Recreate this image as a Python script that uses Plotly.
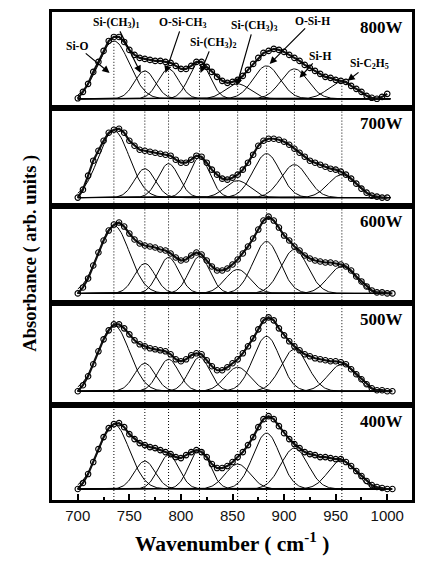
import numpy as np
import plotly.graph_objects as go

# ---------------- data ----------------
powers = ["800W", "700W", "600W", "500W", "400W"]

# measured spectra (open circles), absorbance in arb. units, every 5 cm-1
wn_800W = list(range(700, 1005, 5))
abs_800W = [0.5, 7, 15, 27, 37, 48, 58, 62, 62, 57, 49, 44, 41, 40, 39, 38, 38, 37, 36, 33,
            30, 30, 33, 37, 37, 32, 27, 22, 18, 16, 17, 19, 23, 29, 35, 41, 46, 48, 50, 49,
            47, 44, 41, 38, 34, 31, 28, 25, 22, 21, 19, 18, 17, 13, 10, 7, 3, 1, 0, 2, 5]

wn_700W = list(range(700, 1005, 5))
abs_700W = [0, 8, 22, 37, 47, 57, 65, 68, 69, 65, 57, 52, 48, 47, 46, 45, 44, 43, 42, 38,
            35, 35, 38, 42, 41, 35, 28, 23, 19, 18, 20, 23, 28, 35, 43, 52, 57, 59, 59, 58,
            56, 53, 49, 45, 41, 37, 35, 33, 31, 29, 28, 26, 23, 19, 14, 9, 5, 2, 1, 0, 0]

wn_600W = list(range(700, 1010, 5))
abs_600W = [0, 6, 15, 28, 41, 53, 63, 69, 71, 67, 60, 54, 50, 48, 47, 46, 44, 43, 40, 36,
            33, 34, 38, 41, 39, 33, 27, 23, 23, 25, 29, 34, 40, 47, 55, 64, 73, 77, 73, 66,
            58, 53, 47, 43, 38, 35, 33, 32, 31, 31, 30, 29, 27, 23, 17, 12, 7, 3, 1, 1, 0, 0]

wn_500W = list(range(700, 1010, 5))
abs_500W = [0, 6, 15, 27, 40, 52, 61, 67, 67, 63, 57, 51, 47, 45, 43, 42, 41, 40, 37, 32,
            30, 32, 36, 38, 37, 31, 25, 21, 21, 24, 28, 32, 38, 45, 53, 62, 71, 74, 71, 63,
            56, 50, 45, 41, 37, 35, 33, 32, 31, 30, 30, 29, 27, 22, 17, 12, 7, 3, 1, 1, 0, 0]

wn_400W = list(range(700, 1010, 5))
abs_400W = [0, 6, 15, 27, 40, 52, 61, 65, 66, 62, 55, 50, 46, 44, 42, 41, 39, 37, 35, 32,
            31, 34, 37, 39, 37, 32, 25, 21, 21, 23, 27, 32, 37, 44, 52, 62, 70, 73, 70, 63,
            56, 50, 45, 41, 37, 35, 34, 32, 32, 31, 30, 30, 27, 23, 18, 13, 8, 4, 2, 1, 0, 0]

# fitted Gaussian components: centre (cm-1), width (sigma, cm-1), height per spectrum
peak_centers = [735, 765, 788, 818, 855, 883, 910, 956]
peak_sigmas = [15, 10, 10, 10, 12, 13, 13, 13]
heights_800W = [58, 28, 30, 37, 15, 33, 30, 17]
heights_700W = [67, 29, 34, 40, 17, 44, 33, 23]
heights_600W = [68, 30, 36, 37, 24, 52, 44, 27]
heights_500W = [66, 28, 32, 34, 24, 55, 42, 27]
heights_400W = [65, 28, 34, 40, 25, 56, 41, 29]

peak_labels = ["Si-O", "Si-(CH<sub>3</sub>)<sub>1</sub>", "O-Si-CH<sub>3</sub>",
               "Si-(CH<sub>3</sub>)<sub>2</sub>", "Si-(CH<sub>3</sub>)<sub>3</sub>",
               "O-Si-H", "Si-H", "Si-C<sub>2</sub>H<sub>5</sub>"]

x_ticks = [700, 750, 800, 850, 900, 950, 1000]

spectra = [(wn_800W, abs_800W, heights_800W), (wn_700W, abs_700W, heights_700W),
           (wn_600W, abs_600W, heights_600W), (wn_500W, abs_500W, heights_500W),
           (wn_400W, abs_400W, heights_400W)]

# ---------------- layout geometry ----------------
W, H = 424, 566
L, R, T, B = 52, 9, 11, 66
plot_h = H - T - B
panel_top_px = [11, 107, 205, 303, 405]
panel_bot_px = [107, 205, 303, 405, 500]
base_gap_px = [9, 8, 10, 14, 11]

def py(p):
    return (H - B - p) / plot_h

fig = go.Figure()
serif = "Liberation Serif"

grid = np.arange(700, 1004, 1.0)

for i, (wn, ab, hts) in enumerate(spectra):
    n = i + 1
    xa = "x" if n == 1 else f"x{n}"
    ya = "y" if n == 1 else f"y{n}"
    # gaussian components
    for c, s, h in zip(peak_centers, peak_sigmas, hts):
        g = h * np.exp(-((grid - c) ** 2) / (2 * s ** 2))
        fig.add_trace(go.Scatter(x=grid, y=g, mode="lines", xaxis=xa, yaxis=ya,
                                 line=dict(color="black", width=1), showlegend=False,
                                 hoverinfo="skip"))
    # measured data
    fig.add_trace(go.Scatter(x=wn, y=ab, mode="lines+markers", xaxis=xa, yaxis=ya,
                             line=dict(color="#111", width=2.2),
                             marker=dict(symbol="circle-open", size=5.5, color="black",
                                         line=dict(color="black", width=1.1)),
                             showlegend=False))
    ph = panel_bot_px[i] - panel_top_px[i]
    lo = base_gap_px[i]
    axis_common = dict(showline=True, linecolor="black", linewidth=2.5, mirror=True,
                       showgrid=False, zeroline=False)
    xkey = "xaxis" if n == 1 else f"xaxis{n}"
    ykey = "yaxis" if n == 1 else f"yaxis{n}"
    xa_cfg = dict(axis_common, range=[675, 1024], anchor=ya, domain=[0, 1])
    if n == 5:
        xa_cfg.update(tickvals=x_ticks, ticks="inside", ticklen=6, tickwidth=2,
                      tickcolor="black",
                      tickfont=dict(family="Liberation Sans", size=15, color="#111"),
                      minor=dict(ticks="inside", ticklen=3, tickwidth=1.5, dtick=25,
                                 tick0=700, tickcolor="black"))
    else:
        xa_cfg.update(showticklabels=False, ticks="", matches="x5")
    ya_cfg = dict(axis_common, range=[-lo, ph - lo], anchor=xa,
                  domain=[py(panel_bot_px[i]), py(panel_top_px[i])],
                  showticklabels=False, ticks="")
    fig.layout[xkey] = xa_cfg
    fig.layout[ykey] = ya_cfg

    # dotted guide lines at peak centres
    for c, h in zip(peak_centers, hts):
        if n == 1:
            fig.add_shape(type="line", xref=xa, yref=ya, x0=c, x1=c, y0=-lo, y1=h,
                          line=dict(color="black", width=1, dash="1px,2px"), layer="below")
        else:
            fig.add_shape(type="line", xref=xa, yref=f"{ya} domain", x0=c, x1=c, y0=0, y1=1,
                          line=dict(color="black", width=1, dash="1px,2px"), layer="below")

    # power label
    fig.add_annotation(text=f"<b>{powers[i]}</b>", xref="paper", yref=f"{ya} domain",
                       x=(408 - L) / (W - L - R), y=1 - 16 / ph, xanchor="right",
                       yanchor="middle", showarrow=False,
                       font=dict(family=serif, size=17, color="black"))

# peak labels with arrows in the top panel
arrow_heads = [(730.8, 26), (761, 26), (785, 26), (819, 26), (854, 13), (886, 35), (915, 21), (961.5, 18)]
arrow_offsets = [(-33, -27), (-25, -50), (17, -50), (12, -30), (17, -60), (43, -43), (20, -22), (22, -17)]
for lab, (hx, hy), (ax, ay) in zip(peak_labels, arrow_heads, arrow_offsets):
    fig.add_annotation(text=f"<b>{lab}</b>", x=hx, y=hy, xref="x", yref="y",
                       ax=ax, ay=ay, showarrow=True, arrowhead=2, arrowsize=1.2,
                       arrowwidth=1.2, arrowcolor="black",
                       font=dict(family=serif, size=11.5, color="black"))

# axis titles
fig.add_annotation(text="<b>Wavenumber ( cm<sup>-1</sup> )</b>", xref="paper", yref="paper",
                   x=(233 - L) / (W - L - R), y=py(543), showarrow=False,
                   xanchor="center", yanchor="middle",
                   font=dict(family=serif, size=21.5, color="black"))
fig.add_annotation(text="<b>Absorbance ( arb. units )</b>", xref="paper", yref="paper",
                   x=(30 - L) / (W - L - R), y=py(253), showarrow=False, textangle=-90,
                   xanchor="center", yanchor="middle",
                   font=dict(family=serif, size=18.5, color="black"))

fig.update_layout(width=W, height=H, margin=dict(l=L, r=R, t=T, b=B),
                  paper_bgcolor="white", plot_bgcolor="white", showlegend=False)

fig.write_html("out.html", config={"displayModeBar": False},
               post_script="document.body.style.margin='0px';")
